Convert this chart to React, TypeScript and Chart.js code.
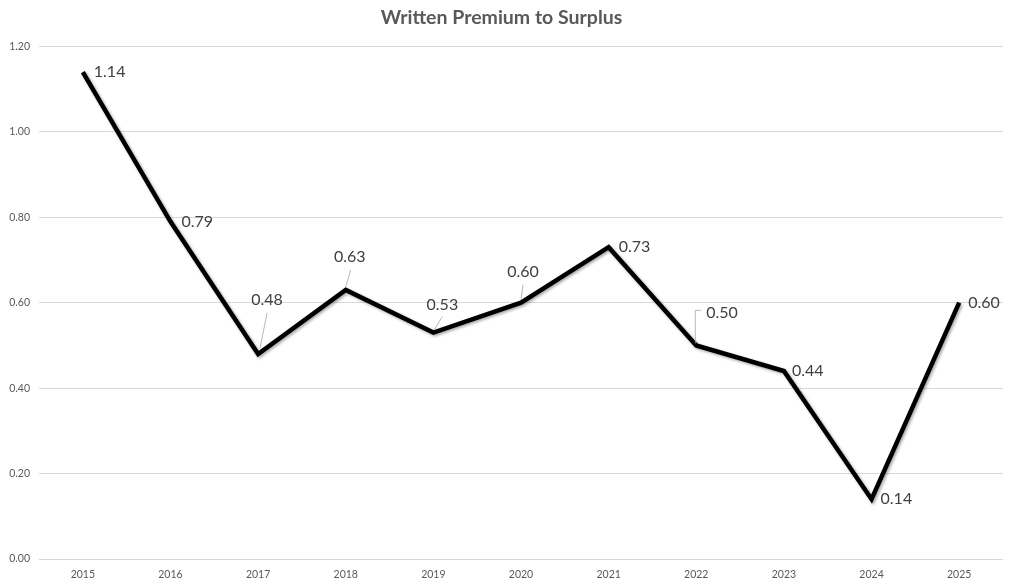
import React, { useEffect, useRef } from "react";
import { Chart, registerables } from "chart.js";

Chart.register(...registerables);

const years = ["2015", "2016", "2017", "2018", "2019", "2020", "2021", "2022", "2023", "2024", "2025"];
const ratios = [1.14, 0.79, 0.48, 0.63, 0.53, 0.6, 0.73, 0.5, 0.44, 0.14, 0.6];
const labelTexts = ["1.14", "0.79", "0.48", "0.63", "0.53", "0.60", "0.73", "0.50", "0.44", "0.14", "0.60"];
const yTicks = [0, 0.2, 0.4, 0.6, 0.8, 1.0, 1.2];

// label placement relative to the point (styling, not data)
type LabelPlace = { dx: number; dy: number; align: "left" | "center"; leader?: number[][] };
const labelPlaces: LabelPlace[] = [
  { dx: 11, dy: 0, align: "left" },
  { dx: 11, dy: 0, align: "left" },
  { dx: 9, dy: -54, align: "center", leader: [[2, -6], [9, -41]] },
  { dx: 4, dy: -33, align: "center", leader: [[0, -3], [5, -20]] },
  { dx: 9, dy: -28, align: "center", leader: [[1, -3], [9, -16]] },
  { dx: 2, dy: -31, align: "center", leader: [[0, -3], [2, -18]] },
  { dx: 10, dy: 0, align: "left" },
  { dx: 10, dy: -33, align: "left", leader: [[-1, -2], [-1, -35], [5, -35]] },
  { dx: 8, dy: 0, align: "left" },
  { dx: 9, dy: 0, align: "left" },
  { dx: 9, dy: 0, align: "left" },
];

const FONT = "Lato, 'Open Sans', sans-serif";

const shadowPlugin = {
  id: "lineShadow",
  beforeDatasetsDraw(chart: any) {
    const ctx = chart.ctx;
    ctx.save();
    ctx.shadowColor = "rgba(0,0,0,0.35)";
    ctx.shadowBlur = 3;
    ctx.shadowOffsetX = 1.5;
    ctx.shadowOffsetY = 1.5;
  },
  afterDatasetsDraw(chart: any) {
    chart.ctx.restore();
  },
};

const labelPlugin = {
  id: "valueLabels",
  afterDatasetsDraw(chart: any) {
    const ctx = chart.ctx;
    const meta = chart.getDatasetMeta(0);
    ctx.save();
    meta.data.forEach((pt: any, i: number) => {
      const p = labelPlaces[i];
      const x = pt.x;
      const y = pt.y;
      if (p.leader) {
        ctx.beginPath();
        ctx.strokeStyle = "#a6a6a6";
        ctx.lineWidth = 0.8;
        p.leader.forEach((q, k) => {
          if (k === 0) ctx.moveTo(x + q[0], y + q[1]);
          else ctx.lineTo(x + q[0], y + q[1]);
        });
        ctx.stroke();
      }
      ctx.fillStyle = "#404040";
      ctx.font = `16px ${FONT}`;
      ctx.textBaseline = "middle";
      ctx.textAlign = p.align;
      ctx.fillText(labelTexts[i], x + p.dx, y + p.dy);
    });
    ctx.restore();
  },
};

export default function App() {
  const ref = useRef<HTMLCanvasElement>(null);
  useEffect(() => {
    if (!ref.current) return;
    const chart = new Chart(ref.current, {
      type: "line",
      data: {
        labels: years,
        datasets: [
          {
            data: ratios,
            borderColor: "#000000",
            borderWidth: 4.5,
            pointRadius: 0,
            tension: 0,
            borderJoinStyle: "miter",
            fill: false,
          },
        ],
      },
      options: {
        animation: false,
        responsive: false,
        maintainAspectRatio: false,
        layout: { padding: { left: 0, right: 10, top: 0, bottom: 0 } },
        plugins: {
          legend: { display: false },
          tooltip: { enabled: false },
          title: {
            display: true,
            text: "Written Premium to Surplus",
            color: "#595959",
            font: { family: FONT, size: 19.5, weight: "bold" },
            padding: { top: 6, bottom: 17 },
          },
        },
        scales: {
          x: {
            type: "category",
            offset: true,
            grid: { display: false },
            border: { display: false },
            ticks: {
              color: "#595959",
              font: { family: FONT, size: 10.5 },
              padding: 1,
              maxRotation: 0,
            },
            afterFit(scale: any) {
              scale.height = 26;
            },
          },
          y: {
            min: 0,
            max: 1.2,
            afterBuildTicks(scale: any) {
              scale.ticks = yTicks.map((v) => ({ value: v }));
            },
            grid: { color: "#d9d9d9", lineWidth: 1, drawTicks: false },
            border: { display: false },
            ticks: {
              color: "#595959",
              font: { family: FONT, size: 10.5 },
              padding: 9,
              callback: (v: any) => Number(v).toFixed(2),
            },
            afterFit(scale: any) {
              scale.width = 39;
            },
          },
        },
      },
      plugins: [shadowPlugin, labelPlugin],
    });
    return () => chart.destroy();
  }, []);
  return (
    <div style={{ position: "absolute", left: 0, top: 0, width: 1013, height: 585, background: "#fff" }}>
      <canvas ref={ref} width={1013} height={585} style={{ width: 1013, height: 585 }} />
    </div>
  );
}
